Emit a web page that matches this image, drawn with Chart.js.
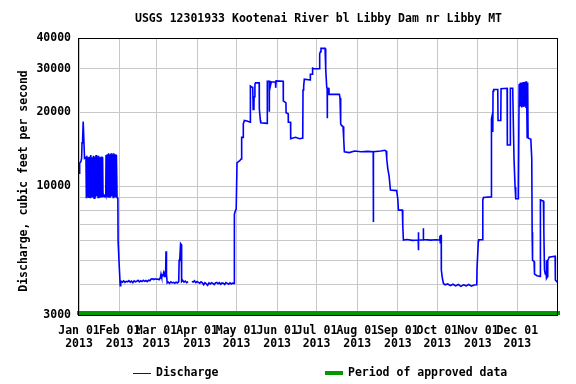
<!DOCTYPE html>
<html>
<head>
<meta charset="utf-8">
<script src="https://cdn.jsdelivr.net/npm/chart.js@4.4.1/dist/chart.umd.min.js"></script>
<style>
  html, body { margin: 0; padding: 0; background: #fff; }
</style>
</head>
<body>
<canvas id="hydro" width="576" height="384"></canvas>
<script>
// Day-of-year positions of the month ticks (2013)
const monthDays = [0, 31, 59, 90, 120, 151, 181, 212, 243, 273, 304, 334];
const monthLabels = ['Jan 01', 'Feb 01', 'Mar 01', 'Apr 01', 'May 01', 'Jun 01',
                     'Jul 01', 'Aug 01', 'Sep 01', 'Oct 01', 'Nov 01', 'Dec 01'];
const yearLabel = '2013';

const yGridValues = [3000, 4000, 5000, 6000, 7000, 8000, 9000, 10000, 20000, 30000, 40000];
const yLabelValues = [3000, 10000, 20000, 30000, 40000];

// Discharge, day of year and cubic feet per second
const dischargeDays = [
    0, 0.5, 1.5, 2, 2.3, 2.7, 3.2, 3.8, 4.2, 4.8,
    5.3, 5.6, 6.0, 6.5, 7.0, 7.5, 8.0, 8.5, 9.0, 9.5, 10.0, 10.5, 11.0, 11.5, 12.0, 12.5,
    13.0, 13.5, 14.0, 14.5, 15.0, 15.5, 16.0, 16.5, 17.0, 17.5, 18.0, 18.3,
    18.5, 19.0, 19.5, 20.0, 20.4,
    20.6, 21.0, 21.5, 22.0, 22.5, 23.0, 23.5, 24.0, 24.5, 25.0, 25.5, 26.0, 26.5, 27.0,
    27.5, 28.0, 28.5, 29.0,
    29.6, 29.8, 30.4, 30.5, 31.2, 31.4, 31.6,
    32, 33, 34, 35, 36, 37, 38, 39, 40, 41, 42, 43, 44, 45, 46, 47, 48, 49, 50, 51, 52, 53, 54,
    55, 56, 57, 58, 59, 60, 61, 62, 62.5, 63, 64, 64.5, 65, 65.5, 66, 66.3, 66.5, 66.8, 67.2,
    68, 69, 70, 71, 72, 73, 74, 75, 76, 76.3, 76.8, 77.4, 77.9, 78.2, 79, 80, 81, 82, 83.2,
    84,
    86, 87, 88, 89, 90, 91, 92, 93, 94, 95, 96, 97, 98, 99, 100, 101, 102, 103, 104, 105,
    106, 107, 108, 109, 110, 111, 112, 113, 114, 115, 116, 117, 118.2,
    118.4, 119.0, 119.8, 120.4, 121.5, 122.5, 123.5, 123.7, 124.2, 125.0, 125.2, 126, 128, 130.5,
    130.6, 131.5, 132.4, 132.7, 133.3, 133.4, 134.0, 134.1, 134.5, 137.3, 137.4, 138.2, 138.5, 143.4,
    143.5, 144.9, 145.0, 145.1, 146.0, 146.1, 146.5, 149.7, 149.9, 150.2, 155.6,
    155.7, 157.7, 157.8, 159.4, 159.5, 161.2, 161.3, 165, 168, 170.5,
    170.7, 171.2, 171.7, 176.2, 176.3, 177.7, 177.8, 178.2, 183.2,
    183.4, 184.0, 184.4, 187.5, 188.0, 188.8, 189.1, 189.2, 189.3, 190.4, 190.5, 198.4,
    198.9, 199.4, 200.3, 201.2, 201.7, 202.2, 206, 210, 215, 220, 224.2, 224.3, 224.4, 230, 233, 234,
    234.5, 235.3, 236.3, 237.3, 242.1, 242.9, 243.4, 246.4, 246.7, 247.2, 250, 254,
    258.5, 258.6, 258.7, 258.8, 262.3, 262.4, 262.5, 268, 272, 274.6, 275, 275.3, 275.6, 276.0,
    276.1, 276.9, 277.7, 279, 281, 283, 285, 287, 289, 291, 293, 295, 297, 299, 301, 303.1,
    303.3, 304.3, 304.6, 307.4, 307.7, 308.2, 314,
    314.3, 314.8, 315.3, 315.5, 316, 319.1, 319.3, 321.4, 321.6, 326.2, 326.4, 328.5,
    328.7, 330.5, 330.8, 331.5, 332.3, 332.8, 334.8,
    335.4, 335.8, 336.2, 336.6, 337.0, 337.4, 337.8, 338.2, 338.6, 339.0, 339.4, 339.8,
    340.2, 340.6, 341.0, 341.2, 341.5, 341.9, 342.2, 344.3,
    345.0, 345.3, 345.6, 346.8, 347.1, 349, 351.4, 351.6, 353.9, 354.2, 354.7, 355.3,
    355.9, 356.1, 356.4, 357.0, 357.2, 358.0, 358.2, 362.8, 363.0, 365
];
const dischargeCfs = [
    11300, 12400, 12600, 13000, 15000, 15100, 18300, 18300, 13000, 13100,
    13000, 9000, 13300, 9050, 13100, 8950, 13200, 9000, 13400, 9050, 13100, 9000, 13300, 8950, 13200, 9000,
    13400, 9100, 13200, 9000, 13300, 9050, 13100, 9000, 13200, 9000, 13100, 9100,
    9100, 9250, 9100, 9200, 9100,
    13400, 9050, 13500, 9000, 13600, 9050, 13500, 9000, 13600, 9100, 13500, 9000, 13600, 9050,
    13500, 9000, 13400, 9000,
    8900, 6000, 6000, 4950, 4950, 3950, 4100,
    4120, 4080, 4130, 4070, 4110, 4090, 4140, 4080, 4120, 4060, 4130, 4090, 4110, 4150, 4090, 4130, 4100, 4150, 4110, 4140, 4100, 4150, 4130,
    4200, 4210, 4180, 4210, 4190, 4200, 4170, 4250, 4400, 4280, 4350, 4450, 4300, 4400, 4350, 5450, 4950, 4400, 4050,
    4080, 4030, 4090, 4050, 4070, 4040, 4080, 4050, 4100, 5000, 5050, 5850, 5800, 4100, 4150, 4080, 4120, 4060, 4100,
    null,
    4110, 4080, 4130, 4060, 4100, 4070, 4040, 4090, 4050, 3980, 4060, 4020, 3960, 4050, 4010, 4060, 4030, 3990, 4050, 4070,
    4020, 4060, 4000, 4050, 4040, 3990, 4060, 4030, 4000, 4050, 4010, 4040, 4030,
    7700, 7900, 8100, 12450, 12600, 12700, 12900, 15400, 15800, 15800, 17900, 18500, 18400, 18200,
    25500, 25300, 25200, 20500, 20700, 23100, 23200, 25900, 26300, 26300, 20700, 18500, 18100, 18000,
    26700, 26700, 20050, 26700, 26600, 25900, 26500, 26500, 25100, 26800, 26700,
    22200, 21800, 19900, 19700, 18200, 18200, 15600, 15800, 15600, 15700,
    24600, 25500, 27200, 27000, 28500, 28500, 30400, 30000, 30000,
    34500, 35200, 36300, 36300, 29900, 25100, 25000, 18900, 25000, 24950, 23600, 23600,
    22800, 17900, 17600, 17500, 15600, 13800, 13700, 13900, 13800, 13850, 13800, 7150, 13800, 13900, 14000, 13900,
    12900, 11800, 11000, 9650, 9600, 8900, 8000, 8000, 6950, 6050, 6080, 6030,
    6050, 5500, 6500, 6050, 6050, 6750, 6080, 6040, 6060, 6050, 6300, 5900, 6300, 6300,
    4570, 4230, 4030, 3980, 4010, 3950, 4000, 3940, 3990, 3920, 3980, 3940, 3990, 3930, 3970, 3980,
    4650, 5990, 6060, 6060, 8800, 9000, 9050,
    18800, 19350, 16600, 24300, 24700, 24700, 18500, 18500, 24900, 25000, 14700, 14700,
    25000, 25000, 20100, 12800, 9900, 8900, 8900,
    26000, 21000, 26300, 21200, 26400, 20900, 26200, 21100, 26500, 21000, 26300, 21200,
    26600, 20800, 26700, 26700, 15800, 26400, 15700, 15500,
    13000, 6500, 5000, 4950, 4400, 4330, 4300, 8800, 8700, 6640, 4570, 4400,
    4400, 5000, 4230, 4300, 5000, 5100, 5150, 5200, 4160, 4050
];

// Period of approved data: whole year, drawn along the bottom of the plot
const approvedDays = [0, 365];
const approvedLevel = [3060, 3060];

const monoFont = "'DejaVu Sans Mono', 'Liberation Mono', monospace";
const fontSize = 11.5;

const dischargePoints = dischargeDays.map((d, i) => ({ x: d, y: dischargeCfs[i] }));
const approvedPoints = approvedDays.map((d, i) => ({ x: d, y: approvedLevel[i] }));

// Title, axis title, legend and plot frame
const decorations = {
    id: 'decorations',
    afterDatasetsDraw(chart) {
        const ctx = chart.ctx;
        const a = chart.chartArea;
        ctx.save();
        ctx.strokeStyle = '#000';
        ctx.lineWidth = 1;
        ctx.strokeRect(Math.round(a.left) - 0.5, Math.round(a.top) + 0.5,
                       Math.round(a.right - a.left), Math.round(a.bottom - a.top));
        ctx.restore();
    },
    afterDraw(chart) {
        const ctx = chart.ctx;
        const a = chart.chartArea;
        ctx.save();
        ctx.fillStyle = '#000';
        ctx.font = 'bold ' + fontSize + 'px ' + monoFont;
        ctx.textBaseline = 'middle';

        ctx.textAlign = 'center';
        ctx.fillText('USGS 12301933 Kootenai River bl Libby Dam nr Libby MT', (a.left + a.right) / 2, 19);

        ctx.save();
        ctx.translate(24, 181);
        ctx.rotate(-Math.PI / 2);
        ctx.fillText('Discharge, cubic feet per second', 0, 0);
        ctx.restore();

        // legend
        const ly = 373;
        ctx.strokeStyle = '#0000ff';
        ctx.lineWidth = 1;
        ctx.beginPath();
        ctx.moveTo(133, ly + 0.5);
        ctx.lineTo(151, ly + 0.5);
        ctx.stroke();
        ctx.textAlign = 'left';
        ctx.fillText('Discharge', 156, ly);

        ctx.fillStyle = '#009900';
        ctx.fillRect(325, ly - 2, 18, 4);
        ctx.fillStyle = '#000';
        ctx.fillText('Period of approved data', 348, ly);
        ctx.restore();
    }
};

new Chart(document.getElementById('hydro'), {
    type: 'line',
    data: {
        datasets: [{
            label: 'Discharge',
            data: dischargePoints,
            borderColor: '#0000ff',
            borderWidth: 1.6,
            pointRadius: 0,
            tension: 0,
            spanGaps: false,
            order: 2
        }, {
            label: 'Period of approved data',
            data: approvedPoints,
            borderColor: '#009900',
            borderWidth: 4,
            borderCapStyle: 'square',
            pointRadius: 0,
            clip: false,
            order: 1
        }]
    },
    options: {
        responsive: false,
        animation: false,
        layout: { padding: { top: 38, right: 18, bottom: 0, left: 0 } },
        plugins: {
            legend: { display: false },
            title: { display: false },
            tooltip: { enabled: false }
        },
        scales: {
            x: {
                type: 'linear',
                min: 0,
                max: 365,
                afterBuildTicks: scale => { scale.ticks = monthDays.map(v => ({ value: v })); },
                afterFit: scale => { scale.height = 69; },
                grid: { color: '#c8c8c8', drawTicks: false },
                border: { display: false },
                ticks: {
                    autoSkip: false,
                    maxRotation: 0,
                    minRotation: 0,
                    padding: 9,
                    color: '#000',
                    font: { family: monoFont, size: fontSize, weight: 'bold', lineHeight: 1.15 },
                    callback: (value, index) => [monthLabels[index], yearLabel]
                }
            },
            y: {
                type: 'logarithmic',
                min: 3000,
                max: 40000,
                afterBuildTicks: scale => { scale.ticks = yGridValues.map(v => ({ value: v })); },
                afterFit: scale => { scale.width = 79; },
                grid: { color: '#c8c8c8', drawTicks: false },
                border: { display: false },
                ticks: {
                    autoSkip: false,
                    padding: 8,
                    color: '#000',
                    font: { family: monoFont, size: fontSize, weight: 'bold' },
                    callback: value => yLabelValues.includes(value) ? String(value) : ''
                }
            }
        }
    },
    plugins: [decorations]
});
</script>
</body>
</html>
